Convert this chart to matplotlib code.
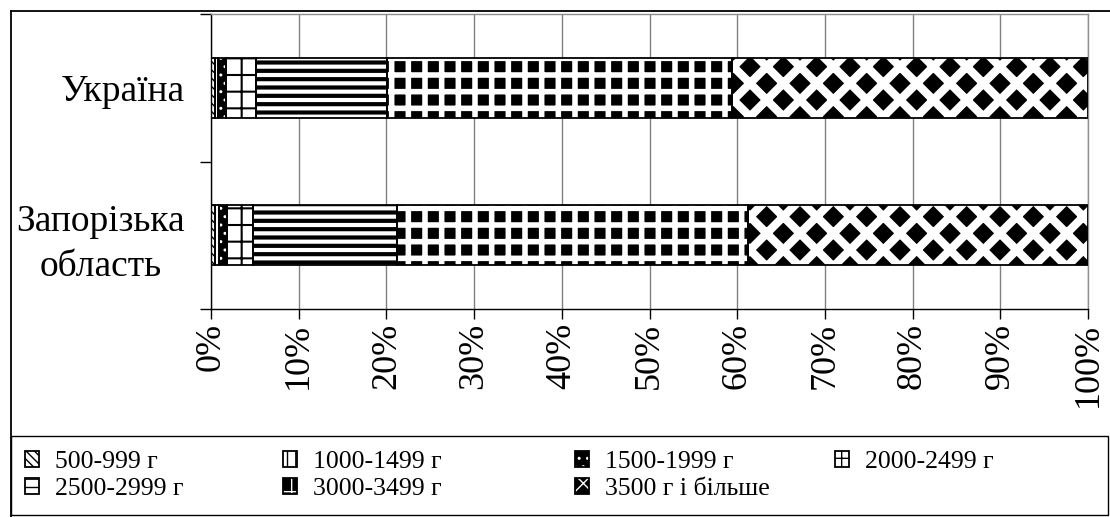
import matplotlib
matplotlib.use("Agg")
import numpy as np
import matplotlib.pyplot as plt
from matplotlib.lines import Line2D
from matplotlib.patches import Rectangle
from matplotlib.legend_handler import HandlerTuple

plt.rcParams["font.family"] = ["Liberation Serif", "DejaVu Serif"]

# -----------------------------------------------------------------------------
# Data (percent of live births by birth weight)
# -----------------------------------------------------------------------------
categories = ["Україна", "Запорізька\nобласть"]
series_labels = ["500-999 г", "1000-1499 г", "1500-1999 г", "2000-2499 г",
                 "2500-2999 г", "3000-3499 г", "3500 г і більше"]
w_500_999 = [0.4, 0.5]
w_1000_1499 = [0.4, 0.4]
w_1500_1999 = [0.9, 0.9]
w_2000_2499 = [3.4, 3.0]
w_2500_2999 = [15.0, 16.4]
w_3000_3499 = [39.3, 40.0]
w_3500_plus = [40.6, 38.8]
x_ticks = [0, 10, 20, 30, 40, 50, 60, 70, 80, 90, 100]

series = [w_500_999, w_1000_1499, w_1500_1999, w_2000_2499,
          w_2500_2999, w_3000_3499, w_3500_plus]

# fill styles: (face, hatch, hatch colour, hatch linewidth)
styles = [
    ("white", "\\\\\\\\", "black", 1.0),
    ("white", "||", "black", 1.0),
    ("black", "..", "white", 1.0),
    ("white", "+", "black", 1.5),
    ("white", "--", "black", 3.0),
    ("black", "+", "white", 4.0),
    ("black", "x", "white", 6.0),
]

W, H = 1110, 517
fig = plt.figure(figsize=(W / 100, H / 100), dpi=100)
ax = fig.add_axes([211 / W, 1 - 309 / H, 877 / W, 295 / H])

vals = np.array(series, dtype=float)
vals = vals / vals.sum(axis=0) * 100.0  # 100% stacked
lefts = np.vstack([np.zeros(vals.shape[1]), np.cumsum(vals, axis=0)[:-1]])
ypos = np.arange(len(categories))

handles = []
for i, (face, hatch, hcol, hlw) in enumerate(styles):
    with plt.rc_context({"hatch.linewidth": hlw}):
        bars = ax.barh(ypos, vals[i], left=lefts[i], height=0.41, color=face,
                       hatch=hatch, edgecolor=hcol, linewidth=0, zorder=2)
        for b in bars:
            if hasattr(b, "set_hatch_linewidth"):
                b.set_hatch_linewidth(hlw)
    outl = ax.barh(ypos, vals[i], left=lefts[i], height=0.41, fill=False,
                   edgecolor="black", linewidth=1.3, zorder=3)
    handles.append((bars[0], outl[0]))

# axes styling
ax.set_xlim(0, 100)
ax.set_ylim(len(categories) - 0.5, -0.5)
ax.set_xticks(x_ticks)
ax.set_xticklabels([f"{v}%" for v in x_ticks], rotation=90, fontsize=26)
ax.tick_params(axis="x", direction="out", length=7, width=1, pad=3)
ax.set_yticks(ypos)
ax.set_yticklabels(categories, fontsize=27, multialignment="center", linespacing=1.4)
ax.tick_params(axis="y", which="major", length=0, pad=19)
ax.set_yticks(np.arange(-0.5, len(categories), 1.0), minor=True)
ax.tick_params(axis="y", which="minor", direction="out", length=8, width=1)
ax.grid(axis="x", color="#808080", linewidth=1)
ax.set_axisbelow(True)
for s in ("top", "right"):
    ax.spines[s].set_color("#909090")
for s in ("left", "bottom"):
    ax.spines[s].set_color("black")
for s in ax.spines.values():
    s.set_linewidth(1)

# outer chart border (left and top edges visible)
fig.add_artist(Line2D([11 / W, 11 / W], [0, 1 - 11 / H], transform=fig.transFigure,
                      color="black", linewidth=1.3))
fig.add_artist(Line2D([11 / W, 1], [1 - 11 / H, 1 - 11 / H], transform=fig.transFigure,
                      color="black", linewidth=1.3))
# legend box
fig.add_artist(Rectangle((11 / W, 2 / H), 1097 / W, 79 / H,
                         transform=fig.transFigure, fill=False,
                         edgecolor="black", linewidth=1))

# legend, one column at a time, filled row by row like the original
columns = [[0, 4], [1, 5], [2, 6], [3]]
col_x = [25, 283, 575, 835]
for idx, cx in zip(columns, col_x):
    leg = fig.legend([handles[k] for k in idx], [series_labels[k] for k in idx],
                     loc="upper left", bbox_to_anchor=(cx / W, 1 - 451 / H),
                     ncol=1, frameon=False, fontsize=18.5, handlelength=0.55,
                     handleheight=0.55, handletextpad=0.6, borderaxespad=0,
                     labelspacing=0.2, borderpad=0,
                     handler_map={tuple: HandlerTuple(ndivide=1, pad=0)})

fig.savefig("out.png", dpi=100)
